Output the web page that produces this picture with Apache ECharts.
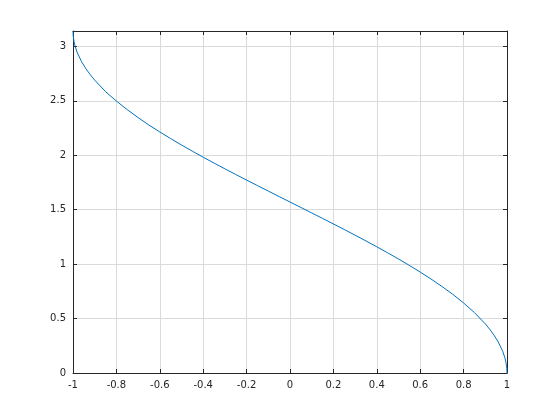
<!DOCTYPE html>
<html>
<head>
<meta charset="utf-8">
<script src="https://cdn.jsdelivr.net/npm/echarts@6/dist/echarts.min.js"></script>
<style>
    html, body { margin: 0; padding: 0; background: #fff; }
    #chart { width: 560px; height: 420px; }
</style>
</head>
<body>
<div id="chart"></div>
<script>
// values
const xs = [-1, -0.999, -0.995, -0.99, -0.98, -0.96, -0.94, -0.92, -0.9, -0.85, -0.8, -0.75, -0.7, -0.65, -0.6,
    -0.55, -0.5, -0.45, -0.4, -0.35, -0.3, -0.25, -0.2, -0.15, -0.1, -0.05, 0, 0.05, 0.1, 0.15, 0.2, 0.25,
    0.3, 0.35, 0.4, 0.45, 0.5, 0.55, 0.6, 0.65, 0.7, 0.75, 0.8, 0.85, 0.9, 0.92, 0.94, 0.96, 0.98, 0.99,
    0.995, 0.999, 1]
const ys = [3.1416, 3.0969, 3.0415, 3.0003, 2.9413, 2.8578, 2.7934, 2.7389, 2.6906, 2.5843, 2.4981, 2.4189,
    2.3462, 2.2776, 2.2143, 2.1532, 2.0944, 2.0376, 1.9823, 1.9284, 1.8755, 1.8235, 1.7722, 1.7214, 1.6710,
    1.6208, 1.5708, 1.5208, 1.4706, 1.4202, 1.3694, 1.3181, 1.2661, 1.2132, 1.1593, 1.1040, 1.0472, 0.9884,
    0.9273, 0.8632, 0.7954, 0.7227, 0.6435, 0.5548, 0.4510, 0.4027, 0.3482, 0.2838, 0.2003, 0.1415, 0.1001,
    0.0447, 0]
const xTicks = { min: -1, max: 1, step: 0.2 }
const yTicks = { min: 0, max: 3.1416, step: 0.5 }

const chart = echarts.init(document.getElementById('chart'))
const axisColor = '#262626'
const gridColor = '#dadada'

const xBase = {
    type: 'value',
    min: xTicks.min,
    max: xTicks.max,
    interval: xTicks.step,
    axisLine: { show: true, onZero: false, lineStyle: { color: axisColor, width: 1 } },
    axisTick: { show: true, inside: true, length: 4, lineStyle: { color: axisColor } },
}
const yBase = {
    type: 'value',
    min: yTicks.min,
    max: yTicks.max,
    interval: yTicks.step,
    axisLine: { show: true, onZero: false, lineStyle: { color: axisColor, width: 1 } },
    axisTick: { show: true, inside: true, length: 4, lineStyle: { color: axisColor } },
}

chart.setOption({
    animation: false,
    grid: { left: 73, right: 53, top: 31, bottom: 47, containLabel: false },
    xAxis: [
        Object.assign({}, xBase, {
            position: 'bottom',
            axisLabel: {
                color: axisColor, fontSize: 10, fontFamily: 'DejaVu Sans', margin: 7,
                formatter: v => String(Math.round(v * 10) / 10)
            },
            splitLine: { show: true, lineStyle: { color: gridColor, width: 1 } }
        }),
        Object.assign({}, xBase, {
            position: 'top',
            axisLabel: { show: false },
            splitLine: { show: false }
        })
    ],
    yAxis: [
        Object.assign({}, yBase, {
            position: 'left',
            axisLabel: {
                color: axisColor, fontSize: 10, fontFamily: 'DejaVu Sans', margin: 7,
                showMaxLabel: false,
                formatter: v => String(Math.round(v * 10) / 10)
            },
            splitLine: { show: true, lineStyle: { color: gridColor, width: 1 } }
        }),
        Object.assign({}, yBase, {
            position: 'right',
            axisLabel: { show: false },
            splitLine: { show: false }
        })
    ],
    series: [
        {
            type: 'line',
            data: xs.map((x, i) => [x, ys[i]]),
            showSymbol: false,
            symbol: 'none',
            lineStyle: { color: '#0072bd', width: 1 },
            xAxisIndex: 0,
            yAxisIndex: 0
        }
    ]
})

window.addEventListener('resize', () => {
    chart.resize()
})
</script>
</body>
</html>
